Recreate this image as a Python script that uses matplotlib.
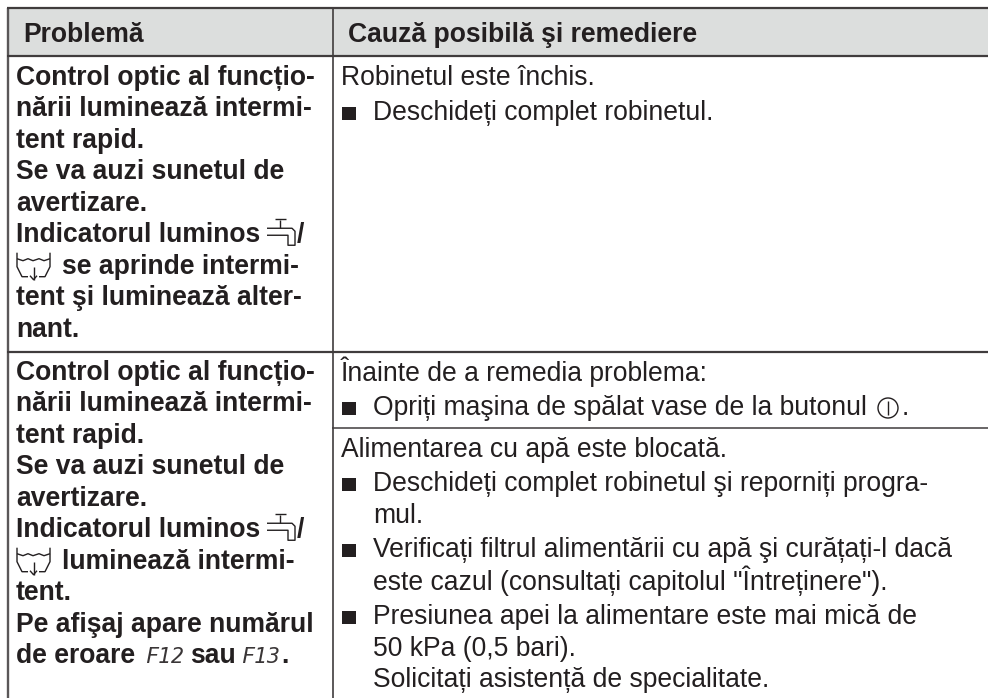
import matplotlib
matplotlib.use("Agg")
import matplotlib.pyplot as plt
from matplotlib.patches import Rectangle, Circle

HEADER_LEFT = "Problemă"
HEADER_RIGHT = "Cauză posibilă şi remediere"

LEFT_ROW1 = ["Control optic al funcțio-", "nării luminează intermi-", "tent rapid.",
             "Se va auzi sunetul de", "avertizare.", "Indicatorul luminos", "se aprinde intermi-",
             "tent şi luminează alter-", "nant."]
LEFT_ROW2 = ["Control optic al funcțio-", "nării luminează intermi-", "tent rapid.",
             "Se va auzi sunetul de", "avertizare.", "Indicatorul luminos", "luminează intermi-",
             "tent.", "Pe afişaj apare numărul", "de eroare"]
RIGHT_LINES = [
    (85, False, "Robinetul este închis."),
    (120, True, "Deschideți complet robinetul."),
    (381, False, "Înainte de a remedia problema:"),
    (415, True, "Opriți maşina de spălat vase de la butonul"),
    (457, False, "Alimentarea cu apă este blocată."),
    (491, True, "Deschideți complet robinetul şi reporniți progra-"),
    (523, None, "mul."),
    (557, True, "Verificați filtrul alimentării cu apă şi curățați-l dacă"),
    (590, None, "este cazul (consultați capitolul \"Întreținere\")."),
    (624, True, "Presiunea apei la alimentare este mai mică de"),
    (656, None, "50 kPa (0,5 bari)."),
    (687, None, "Solicitați asistență de specialitate."),
]

INK = "#231f20"
plt.rcParams["font.family"] = ["Liberation Sans", "DejaVu Sans"]
fig = plt.figure(figsize=(9.88, 6.98), dpi=100)
ax = fig.add_axes([0, 0, 1, 1])
ax.set_xlim(0, 988)
ax.set_ylim(698, 0)
ax.axis("off")

ax.add_patch(Rectangle((7, 8), 981, 47, fc="#dcdedd", ec="none"))
def ln(x, y, lw=1.6, c="#403c3d"):
    ax.plot(x, y, color=c, lw=lw, solid_capstyle="butt", solid_joinstyle="round")
ln([7.5, 7.5], [8, 698], 1.7, "#5a5758"); ln([332.5, 332.5], [8, 698], 1.2)
ln([7, 988], [8, 8]); ln([7, 988], [55.5, 55.5]); ln([7, 988], [351.5, 351.5])
ln([332, 988], [427.5, 427.5], lw=1.1)

BOLD = 19.1
REG = 19.1
ax.text(23, 42, HEADER_LEFT, fontsize=BOLD, weight="bold", color=INK)
ax.text(348, 42, HEADER_RIGHT, fontsize=BOLD, weight="bold", color=INK)

for start, lines in ((85, LEFT_ROW1), (380, LEFT_ROW2)):
    for i, t in enumerate(lines):
        x = 62 if t in ("se aprinde intermi-", "luminează intermi-") else 16
        ax.text(x, start + i * 31.45, t, fontsize=BOLD, weight="bold", color=INK)

for y, bullet, t in RIGHT_LINES:
    if bullet is False:
        ax.text(341, y, t, fontsize=REG, color=INK)
    else:
        if bullet:
            ax.add_patch(Rectangle((342, y - 13), 13.5, 13, fc=INK, ec="none"))
        ax.text(373, y, t, fontsize=REG, color=INK)

def tap(x, y):
    ln([x + 13, x + 13], [y - 22, y - 14], 1, INK)
    ln([x + 8, x + 19], [y - 23, y - 23], 1, INK)
    ln([x, x + 25, x + 28, x + 28, x + 21, x + 21, x], [y - 14, y - 14, y - 11, y + 3, y + 3, y - 7, y - 7], 1, INK)
def drain(x, y):
    ln([x, x, x + 5, x + 11], [y - 21, y - 7, y + 3, y + 3], 1, INK)
    ln([x + 33, x + 33, x + 28, x + 22], [y - 21, y - 7, y + 3, y + 3], 1, INK)
    ln([x, x + 6, x + 11, x + 16, x + 22, x + 27, x + 33], [y - 15, y - 13, y - 15, y - 13, y - 15, y - 13, y - 15], 1, INK)
    ln([x + 16.5, x + 16.5], [y - 7, y + 6], 1, INK)
    ln([x + 13, x + 16.5, x + 20], [y + 2, y + 6, y + 2], 1, INK)

for base in (85 + 5 * 31.45, 380 + 5 * 31.45):
    tap(267, base)
    ax.text(297, base, "/", fontsize=BOLD, weight="bold", color=INK)
    drain(17, base + 31.45)

last = 380 + 9 * 31.45
ax.text(145, last, "F12", fontsize=15.5, style="oblique", color="#3a3637", family="DejaVu Sans Mono")
ax.text(190, last, "sau", fontsize=BOLD, weight="bold", color=INK)
ax.text(241, last, "F13", fontsize=15.5, style="oblique", color="#3a3637", family="DejaVu Sans Mono")
ax.text(281, last, ".", fontsize=BOLD, weight="bold", color=INK)

ax.add_patch(Circle((888, 408), 10, fc="none", ec=INK, lw=1))
ln([888, 888], [401, 415], 1, INK)
ax.text(902, 415, ".", fontsize=REG, color=INK)

fig.savefig("out.png", dpi=100)
